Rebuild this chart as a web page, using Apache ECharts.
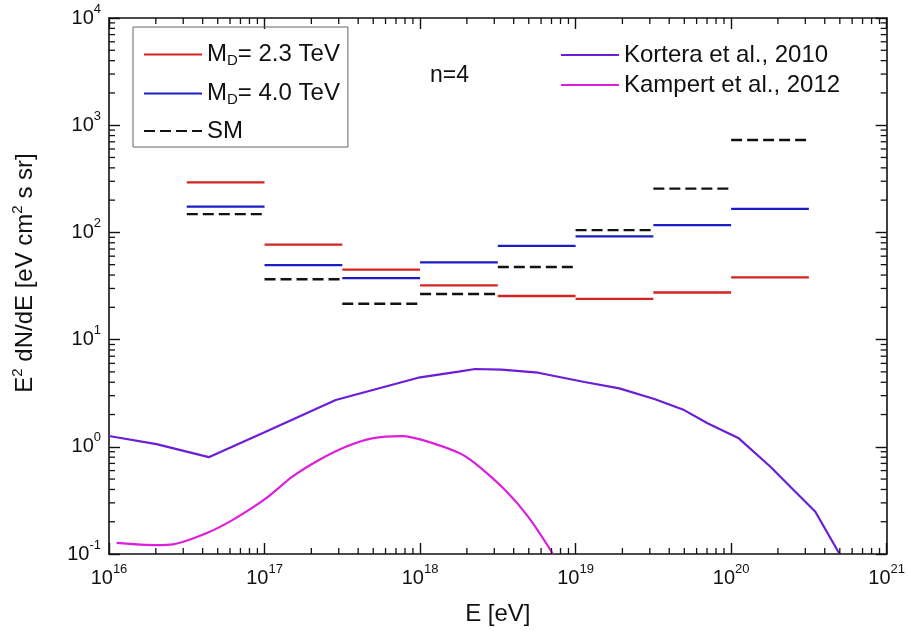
<!DOCTYPE html>
<html>
<head>
<meta charset="utf-8">
<script src="https://cdn.jsdelivr.net/npm/echarts@6/dist/echarts.min.js"></script>
<style>html,body{margin:0;padding:0;background:#fff}#c{width:908px;height:631px}</style>
</head>
<body>
<div id="c"></div>
<script>
// Bin edges (eV) for the step histograms
const binEdges = [3.162e16, 1e17, 3.162e17, 1e18, 3.162e18, 1e19, 3.162e19, 1e20, 3.162e20];
// E^2 dN/dE per bin
const md23 = [293, 77, 45, 32, 25.5, 24, 27.5, 38];
const md40 = [174, 49.5, 37.5, 52.5, 75, 92, 117, 166];
const smVals = [148, 36.5, 21.6, 26.6, 47.5, 105, 256, 728];

// Kortera et al., 2010
const kortE = [1e16, 2.02e16, 4.38e16, 1e17, 2.87e17, 1e18, 1.77e18, 2.26e18, 3.34e18, 5.74e18, 1.14e19, 1.91e19, 3.21e19, 4.99e19, 7.05e19, 1.12e20, 1.79e20, 2.52e20, 3.48e20, 4.98e20];
const kortF = [1.26, 1.06, 0.80, 1.37, 2.73, 4.45, 5.02, 5.32, 5.25, 4.91, 4.02, 3.51, 2.79, 2.20, 1.66, 1.20, 0.652, 0.395, 0.248, 0.1];

// Kampert et al., 2012
const kampE = [1.12e16, 2.02e16, 2.58e16, 4.22e16, 6.25e16, 1.01e17, 1.51e17, 2.24e17, 3.33e17, 4.92e17, 7.66e17, 1.03e18, 1.77e18, 2.26e18, 3.52e18, 4.95e18, 7.16e18];
const kampF = [0.127, 0.121, 0.123, 0.156, 0.208, 0.326, 0.526, 0.753, 1.0, 1.20, 1.26, 1.16, 0.88, 0.70, 0.395, 0.223, 0.1];

// axis ranges
const xMin = 1e16, xMax = 1e21, yMin = 0.1, yMax = 1e4;

const nameMD23 = 'MD= 2.3 TeV';
const nameMD40 = 'MD= 4.0 TeV';
const nameSM = 'SM';
const nameKort = 'Kortera et al., 2010';
const nameKamp = 'Kampert et al., 2012';

function stepData(vals) {
  const d = [];
  for (let i = 0; i < vals.length; i++) {
    d.push([binEdges[i], vals[i]]);
    d.push([binEdges[i + 1], vals[i]]);
    d.push([binEdges[i + 1], '-']);
  }
  return d;
}
function pairs(xs, ys) { return xs.map((x, i) => [x, ys[i]]); }

// minor tick positions
const xMinor = [], yMinor = [];
for (let k = 16; k < 21; k++) for (let m = 2; m <= 9; m++) xMinor.push(m * Math.pow(10, k));
for (let k = -1; k < 4; k++) for (let m = 2; m <= 9; m++) yMinor.push(m * Math.pow(10, k));
const minorData = xMinor.map(v => [v, 1, 0]).concat(yMinor.map(v => [1e18, v, 1]));

const FONT = '"Liberation Sans", Arial, sans-serif';
const supRich = {
  b: { fontSize: 20, fontFamily: FONT, color: '#111' },
  s: { fontSize: 13, fontFamily: FONT, color: '#111', padding: [0, 0, 18, 0] }
};
function powLabel(v) {
  const e = Math.round(Math.log10(v));
  return '{b|10}{s|' + e + '}';
}

const axisLine = { show: true, lineStyle: { color: '#111', width: 1.6 } };
const axisTick = { show: true, inside: true, length: 11, lineStyle: { color: '#111', width: 1.4 } };

const chart = echarts.init(document.getElementById('c'), null, { renderer: 'canvas' });
chart.setOption({
  animation: false,
  backgroundColor: '#fff',
  textStyle: { fontFamily: FONT },
  grid: { left: 109, right: 18, top: 18, bottom: 77, containLabel: false },
  title: {
    text: 'n=4', left: 425, top: 59,
    textStyle: { fontSize: 23, fontWeight: 'normal', color: '#111', fontFamily: FONT }
  },
  legend: [
    {
      data: [nameMD23, nameMD40, nameSM],
      orient: 'vertical', left: 133, top: 27,
      padding: [14, 8, 4, 10],
      borderColor: '#666', borderWidth: 1,
      itemWidth: 58, itemHeight: 14, itemGap: 12,
      itemStyle: { opacity: 0 },
      formatter: function (n) {
        if (n === nameMD23) return '{a|M}{d|D}{a|= 2.3 TeV}';
        if (n === nameMD40) return '{a|M}{d|D}{a|= 4.0 TeV}';
        return '{a|' + n + '}';
      },
      textStyle: {
        color: '#111', fontFamily: FONT,
        rich: {
          a: { fontSize: 24, fontFamily: FONT, color: '#111', lineHeight: 27 },
          d: { fontSize: 15, fontFamily: FONT, color: '#111', padding: [12, 0, 0, 0], lineHeight: 27 }
        }
      }
    },
    {
      data: [nameKort, nameKamp],
      orient: 'vertical', left: 555, top: 37,
      padding: 5,
      itemWidth: 58, itemHeight: 14, itemGap: 4,
      itemStyle: { opacity: 0 },
      textStyle: { fontSize: 24, color: '#111', fontFamily: FONT, lineHeight: 26 }
    }
  ],
  xAxis: [
    {
      type: 'log', logBase: 10, min: xMin, max: xMax, position: 'bottom',
      axisLine: axisLine, axisTick: axisTick, splitLine: { show: false },
      axisLabel: { formatter: powLabel, rich: supRich, margin: 9 },
      name: 'E [eV]', nameLocation: 'middle', nameGap: 48,
      nameTextStyle: { fontSize: 24, color: '#111', fontFamily: FONT }
    },
    {
      type: 'log', logBase: 10, min: xMin, max: xMax, position: 'top',
      axisLine: axisLine, axisTick: axisTick, splitLine: { show: false },
      axisLabel: { show: false }
    }
  ],
  yAxis: [
    {
      type: 'log', logBase: 10, min: yMin, max: yMax, position: 'left',
      axisLine: axisLine, axisTick: axisTick, splitLine: { show: false },
      axisLabel: { formatter: powLabel, rich: supRich, margin: 8 },
      name: '{t|E}{u|2}{t| dN/dE [eV cm}{u|2}{t| s sr]}', nameLocation: 'middle', nameGap: 68,
      nameTextStyle: {
        color: '#111', fontFamily: FONT, padding: [0, 0, 0, 26],
        rich: {
          t: { fontSize: 24, fontFamily: FONT, color: '#111' },
          u: { fontSize: 15, fontFamily: FONT, color: '#111', padding: [0, 0, 16, 0] }
        }
      }
    },
    {
      type: 'log', logBase: 10, min: yMin, max: yMax, position: 'right',
      axisLine: axisLine, axisTick: axisTick, splitLine: { show: false },
      axisLabel: { show: false }
    }
  ],
  series: [
    {
      name: nameKort, type: 'line', data: pairs(kortE, kortF), showSymbol: false, symbol: 'none',
      lineStyle: { color: '#6A1ED6', width: 2.2 }, itemStyle: { color: '#6A1ED6' }, z: 3
    },
    {
      name: nameKamp, type: 'line', data: pairs(kampE, kampF), showSymbol: false, symbol: 'none', smooth: 0.3,
      lineStyle: { color: '#DD1FDD', width: 2.2 }, itemStyle: { color: '#DD1FDD' }, z: 3
    },
    {
      name: nameMD23, type: 'line', data: stepData(md23), showSymbol: false, symbol: 'none', connectNulls: false,
      lineStyle: { color: '#D42424', width: 2.3 }, itemStyle: { color: '#D42424' }, z: 4
    },
    {
      name: nameMD40, type: 'line', data: stepData(md40), showSymbol: false, symbol: 'none', connectNulls: false,
      lineStyle: { color: '#1C1CC4', width: 2.3 }, itemStyle: { color: '#1C1CC4' }, z: 4
    },
    {
      name: nameSM, type: 'line', data: stepData(smVals), showSymbol: false, symbol: 'none', connectNulls: false,
      lineStyle: { color: '#111', width: 2.4, type: [11, 5] }, itemStyle: { color: '#111' }, z: 4
    },
    {
      name: 'minorTicks', type: 'custom', silent: true, z: 5,
      data: minorData,
      renderItem: function (params, api) {
        const cs = params.coordSys;
        const L = 6;
        const kind = api.value(2);
        const style = { stroke: '#111', lineWidth: 1.3 };
        if (kind === 0) {
          const px = api.coord([api.value(0), 1])[0];
          return { type: 'group', children: [
            { type: 'line', shape: { x1: px, y1: cs.y + cs.height, x2: px, y2: cs.y + cs.height - L }, style: style },
            { type: 'line', shape: { x1: px, y1: cs.y, x2: px, y2: cs.y + L }, style: style }
          ] };
        } else {
          const py = api.coord([1e18, api.value(1)])[1];
          return { type: 'group', children: [
            { type: 'line', shape: { x1: cs.x, y1: py, x2: cs.x + L, y2: py }, style: style },
            { type: 'line', shape: { x1: cs.x + cs.width, y1: py, x2: cs.x + cs.width - L, y2: py }, style: style }
          ] };
        }
      }
    }
  ]
});
</script>
</body>
</html>
